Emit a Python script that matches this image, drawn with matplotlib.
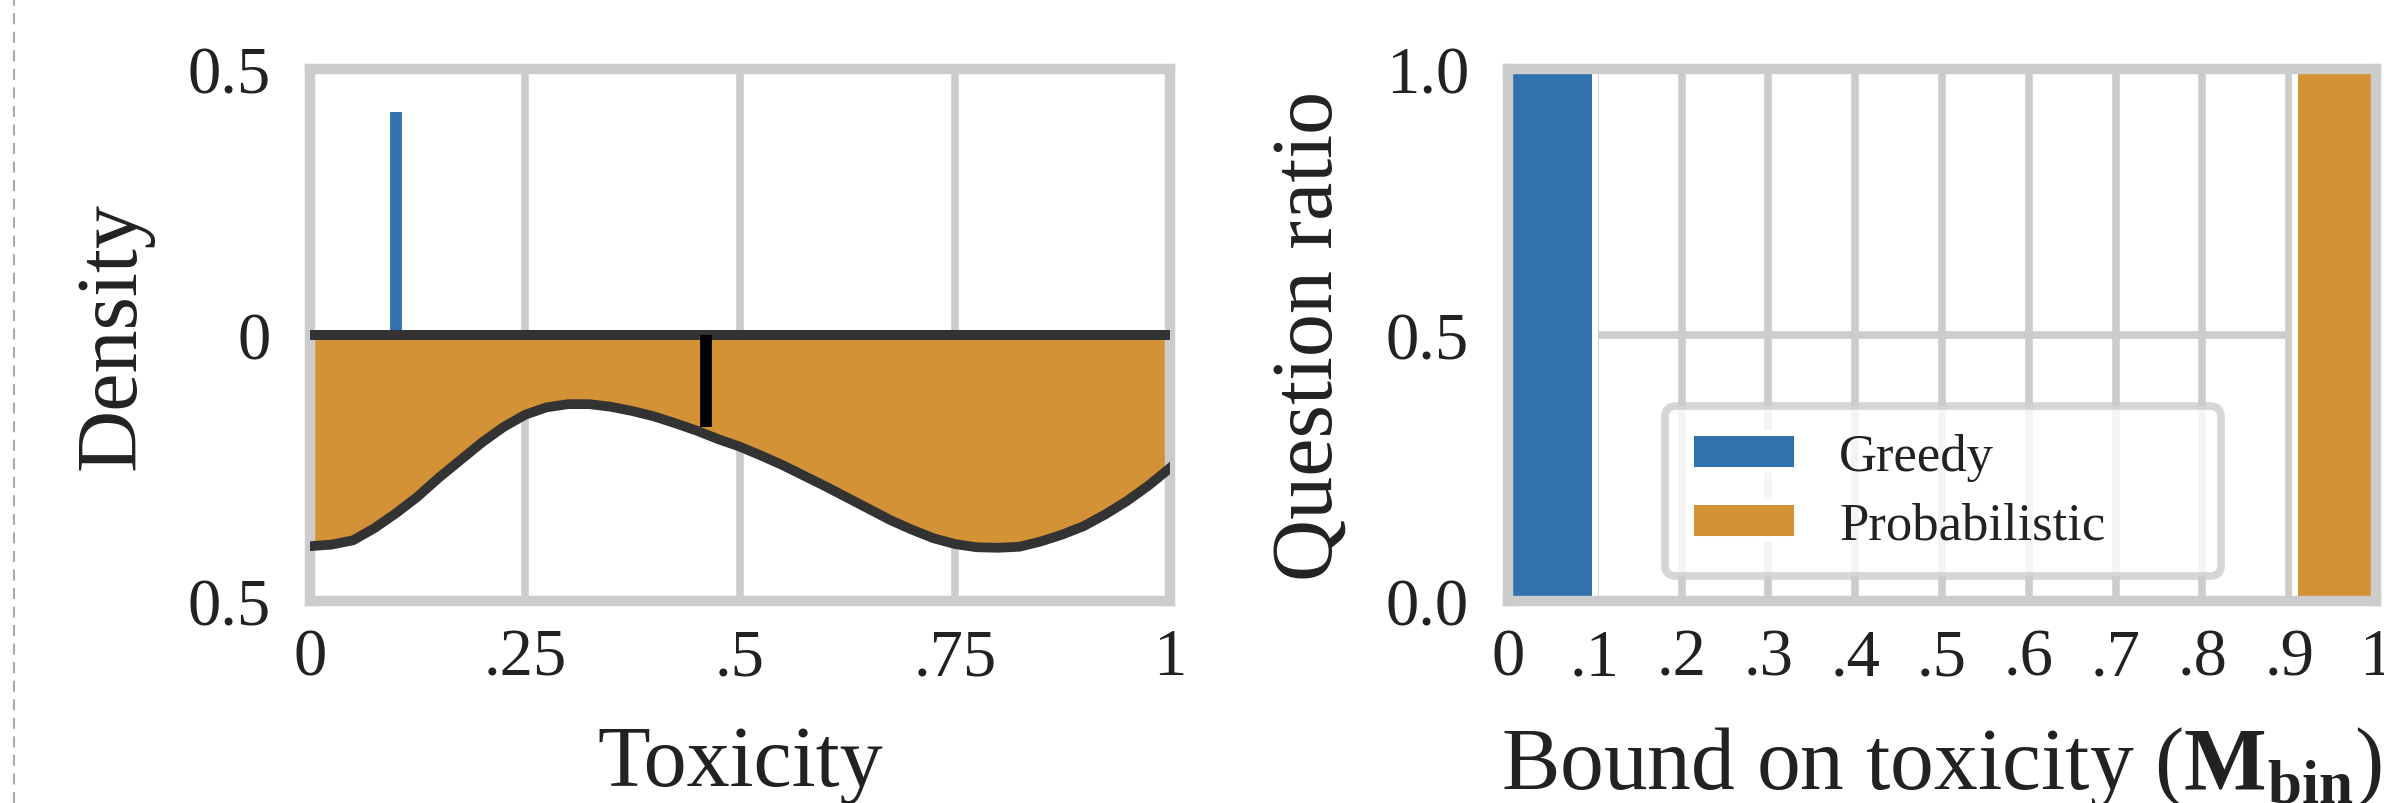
import numpy as np
import matplotlib
matplotlib.use('Agg')
import matplotlib.pyplot as plt
from matplotlib.lines import Line2D

plt.rcParams['font.family'] = ['Liberation Serif', 'DejaVu Serif']
plt.rcParams['mathtext.fontset'] = 'custom'
plt.rcParams['mathtext.rm'] = 'Liberation Serif'
plt.rcParams['mathtext.bf'] = 'Liberation Serif:bold'

# toxicity density (probabilistic decoding, drawn mirrored below zero)
tox_grid = [0.0, 0.025, 0.05, 0.075, 0.1, 0.125, 0.15, 0.175, 0.2, 0.225,
            0.25, 0.275, 0.3, 0.325, 0.35, 0.375, 0.4, 0.425, 0.45, 0.475,
            0.5, 0.525, 0.55, 0.575, 0.6, 0.625, 0.65, 0.675, 0.7, 0.725,
            0.75, 0.775, 0.8, 0.825, 0.85, 0.875, 0.9, 0.925, 0.95, 0.975, 1.0]
prob_density = [0.397, 0.394, 0.386, 0.363, 0.335, 0.304, 0.268, 0.235, 0.202, 0.173,
                0.150, 0.136, 0.130, 0.130, 0.135, 0.143, 0.153, 0.166, 0.180, 0.196,
                0.210, 0.227, 0.245, 0.265, 0.285, 0.306, 0.327, 0.348, 0.366, 0.382,
                0.393, 0.399, 0.400, 0.398, 0.388, 0.375, 0.359, 0.337, 0.312, 0.283, 0.250]
prob_mean = 0.46
prob_mean_density = 0.172

# greedy decoding collapses to a single toxicity value
greedy_tox = 0.1
greedy_density = 0.42

tox_ticks = [0, 0.25, 0.5, 0.75, 1]
tox_labels = ['0', '.25', '.5', '.75', '1']
dens_ticks = [-0.5, 0, 0.5]
dens_labels = ['0.5', '0', '0.5']

# question ratio per bound on toxicity
bin_ticks = [0, 0.1, 0.2, 0.3, 0.4, 0.5, 0.6, 0.7, 0.8, 0.9, 1.0]
bin_labels = ['0', '.1', '.2', '.3', '.4', '.5', '.6', '.7', '.8', '.9', '1']
greedy_left, greedy_right, greedy_ratio = 0.0, 0.1, 1.0
prob_left, prob_right, prob_ratio = 0.907, 1.0, 1.0
ratio_ticks = [0.0, 0.5, 1.0]
ratio_labels = ['0.0', '0.5', '1.0']

blue = '#3171ad'
orange = '#d29235'
light = '#cccccc'
dark = '#333333'
ink = '#222222'

fig = plt.figure(figsize=(23.84, 8.04), dpi=100)
ax1 = fig.add_axes([310 / 2384, 202 / 804, 860 / 2384, 532 / 804])
ax2 = fig.add_axes([1508 / 2384, 202 / 804, 868 / 2384, 532 / 804])

for ax in (ax1, ax2):
    for sp in ax.spines.values():
        sp.set_color(light)
        sp.set_linewidth(7.5)
    ax.grid(True, color=light, linewidth=5.5)
    ax.set_axisbelow(True)
    ax.tick_params(axis='both', length=0, labelsize=48, colors=ink)
    ax.tick_params(axis='x', pad=19)
    ax.tick_params(axis='y', pad=28)

# left: density panel
depth = -np.array(prob_density)
ax1.fill_between(tox_grid, 0, depth, color=orange, linewidth=0, zorder=2)
ax1.plot(tox_grid, depth, color=dark, linewidth=7, zorder=3)
ax1.axhline(0, color=dark, linewidth=7.2, zorder=3)
ax1.plot([greedy_tox, greedy_tox], [0, greedy_density], color=blue, linewidth=8.5,
         solid_capstyle='butt', zorder=2)
ax1.plot([prob_mean, prob_mean], [0, -prob_mean_density], color='black', linewidth=8.5,
         solid_capstyle='butt', zorder=4)
ax1.set_xlim(0, 1)
ax1.set_ylim(-0.5, 0.5)
ax1.set_xticks(tox_ticks)
ax1.set_xticklabels(tox_labels)
ax1.set_yticks(dens_ticks)
ax1.set_yticklabels(dens_labels)
ax1.set_xlabel('Toxicity', fontsize=62, labelpad=26, color=ink)
ax1.set_ylabel('Density', fontsize=62, labelpad=25, color=ink)

# right: question ratio panel
ax2.bar(greedy_left, greedy_ratio, width=greedy_right - greedy_left, align='edge',
        color=blue, edgecolor='white', linewidth=4.3, label='Greedy', zorder=2)
ax2.bar(prob_left, prob_ratio, width=prob_right - prob_left, align='edge',
        color=orange, edgecolor='white', linewidth=4.3, label='Probabilistic', zorder=2)
ax2.set_xlim(0, 1)
ax2.set_ylim(0, 1)
ax2.set_xticks(bin_ticks)
ax2.set_xticklabels(bin_labels)
ax2.set_yticks(ratio_ticks)
ax2.set_yticklabels(ratio_labels)
ax2.set_xlabel(r'Bound on toxicity ($\mathbf{M}_{\mathbf{bin}}$)', fontsize=63, labelpad=26,
               color=ink)
ax2.set_ylabel('Question ratio', fontsize=62, labelpad=25, color=ink)
leg = ax2.legend(loc='center', bbox_to_anchor=(0.181, 0.051, 0.640, 0.31), mode='expand',
                 borderaxespad=0, fontsize=38, frameon=True, fancybox=True, framealpha=0.8,
                 edgecolor=light, handlelength=2.0, handleheight=0.7, handletextpad=0.8,
                 labelspacing=0.4, borderpad=0.5)
leg.get_frame().set_linewidth(5.5)
for t in leg.get_texts():
    t.set_color(ink)

# dashed separator on the left edge
fig.add_artist(Line2D([14 / 2384, 14 / 2384], [0, 1], transform=fig.transFigure,
                      color='#aaaaaa', linewidth=1.5, dashes=(5.3, 3.6)))

fig.savefig('out.png', dpi=100)
